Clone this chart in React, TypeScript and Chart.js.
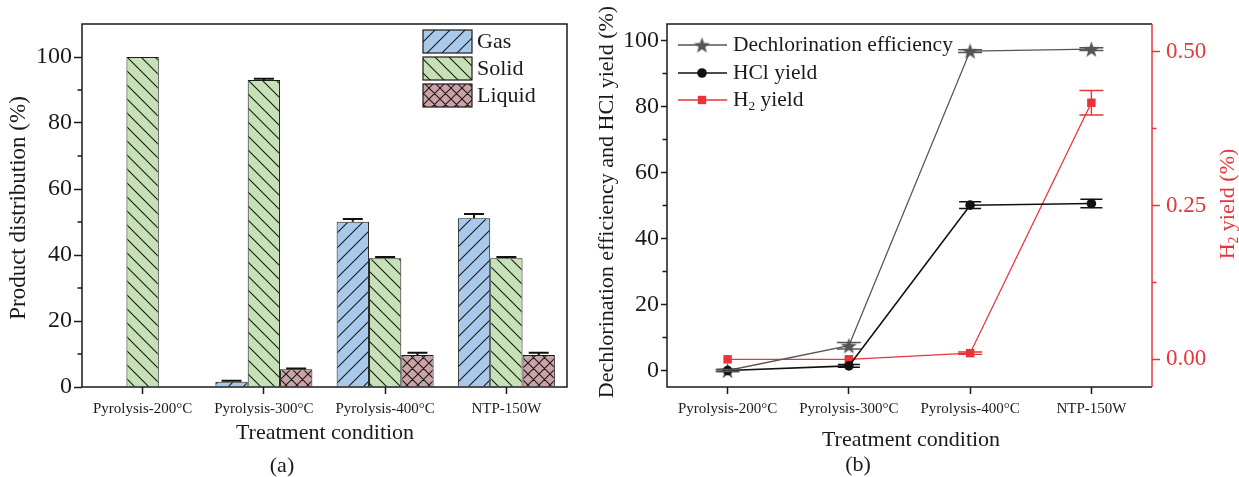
import React, { useEffect, useRef } from 'react';
import { Chart, registerables } from 'chart.js';

Chart.register(...registerables);

const FONT = "'Liberation Serif', 'Times New Roman', Times, serif";
const TEXT = '#1a1a1a';
const RED = '#e8353b';
const GRAY = '#555555';

// ---------- data ----------
const categories = ['Pyrolysis-200°C', 'Pyrolysis-300°C', 'Pyrolysis-400°C', 'NTP-150W'];

// (a) product distribution (%)
const gasValues = [null, 1.6, 50.1, 51.1];
const gasErrors = [0, 0.3, 0.8, 1.3];
const solidValues = [100, 93.0, 39.0, 39.0];
const solidErrors = [0, 0.4, 0.4, 0.4];
const liquidValues = [null, 5.4, 9.7, 9.7];
const liquidErrors = [0, 0.2, 0.7, 0.7];
const productMinorTicks = [10, 30, 50, 70, 90];

// (b) dechlorination (%), HCl yield (%), H2 yield (%)
const dechlorValues = [0, 7.5, 96.8, 97.4];
const dechlorErrors = [0.3, 1.0, 0.4, 0.4];
const hclValues = [0, 1.4, 50.1, 50.6];
const hclErrors = [0.3, 0.4, 1.0, 1.3];
const h2Values = [0, 0, 0.01, 0.417];
const h2Errors = [0, 0, 0.002, 0.02];
const leftMinorTicks = [10, 30, 50, 70, 90];
const rightMinorTicks = [0.125, 0.375];

// ---------- helpers ----------
function hatch(bg: string, kind: 'fwd' | 'back' | 'cross', size: number): CanvasPattern {
  const c = document.createElement('canvas');
  c.width = size;
  c.height = size;
  const g = c.getContext('2d')!;
  g.fillStyle = bg;
  g.fillRect(0, 0, size, size);
  g.strokeStyle = '#1a1a1a';
  g.lineWidth = 1.1;
  g.beginPath();
  if (kind === 'fwd' || kind === 'cross') {
    g.moveTo(-1, size + 1); g.lineTo(size + 1, -1);
    g.moveTo(-2, 2); g.lineTo(2, -2);
    g.moveTo(size - 2, size + 2); g.lineTo(size + 2, size - 2);
  }
  if (kind === 'back' || kind === 'cross') {
    g.moveTo(-1, -1); g.lineTo(size + 1, size + 1);
    g.moveTo(size - 2, -2); g.lineTo(size + 2, 2);
    g.moveTo(-2, size - 2); g.lineTo(2, size + 2);
  }
  g.stroke();
  return g.createPattern(c, 'repeat')!;
}

function starImage(outer: number, inner: number, color: string): HTMLCanvasElement {
  const s = Math.ceil(outer * 2 + 2);
  const c = document.createElement('canvas');
  c.width = s;
  c.height = s;
  const g = c.getContext('2d')!;
  g.fillStyle = color;
  g.beginPath();
  for (let k = 0; k < 10; k++) {
    const r = k % 2 === 0 ? outer : inner;
    const a = -Math.PI / 2 + (k * Math.PI) / 5;
    const px = s / 2 + r * Math.cos(a);
    const py = s / 2 + 0.8 + r * Math.sin(a);
    if (k === 0) g.moveTo(px, py);
    else g.lineTo(px, py);
  }
  g.closePath();
  g.fill();
  return c;
}

function txt(ctx: CanvasRenderingContext2D, s: string, x: number, y: number, size: number, color: string, align: CanvasTextAlign = 'center', rot = 0) {
  ctx.save();
  ctx.translate(x, y);
  if (rot) ctx.rotate(rot);
  ctx.font = `${size}px ${FONT}`;
  ctx.fillStyle = color;
  ctx.textAlign = align;
  ctx.textBaseline = 'middle';
  ctx.fillText(s, 0, 0);
  ctx.restore();
}

type Part = { t: string; sub?: boolean };
function rich(ctx: CanvasRenderingContext2D, parts: Part[], x: number, y: number, size: number, color: string, align: 'left' | 'center', rot = 0) {
  ctx.save();
  ctx.translate(x, y);
  if (rot) ctx.rotate(rot);
  ctx.fillStyle = color;
  ctx.textBaseline = 'middle';
  ctx.textAlign = 'left';
  const subSize = size * 0.62;
  let total = 0;
  const widths = parts.map((p) => {
    ctx.font = `${p.sub ? subSize : size}px ${FONT}`;
    const w = ctx.measureText(p.t).width;
    total += w;
    return w;
  });
  let cx = align === 'center' ? -total / 2 : 0;
  parts.forEach((p, i) => {
    ctx.font = `${p.sub ? subSize : size}px ${FONT}`;
    ctx.fillText(p.t, cx, p.sub ? size * 0.3 : 0);
    cx += widths[i];
  });
  ctx.restore();
}

const errorBars = {
  id: 'errorBars',
  afterDatasetsDraw(chart: any) {
    const ctx: CanvasRenderingContext2D = chart.ctx;
    chart.data.datasets.forEach((ds: any, i: number) => {
      const errs: number[] | undefined = ds.errors;
      if (!errs) return;
      const meta = chart.getDatasetMeta(i);
      const scale = chart.scales[meta.yAxisID];
      ctx.save();
      ctx.strokeStyle = ds.errorColor;
      ctx.lineWidth = ds.errorWidth;
      meta.data.forEach((el: any, j: number) => {
        const v = ds.data[j];
        const e = errs[j];
        if (v == null || !e) return;
        const x = el.x;
        const yTop = scale.getPixelForValue(v + e);
        const yBot = ds.upperOnly ? scale.getPixelForValue(v) : scale.getPixelForValue(v - e);
        const hw = ds.capHalf;
        ctx.beginPath();
        ctx.moveTo(x, yTop); ctx.lineTo(x, yBot);
        ctx.moveTo(x - hw, yTop); ctx.lineTo(x + hw, yTop);
        if (!ds.upperOnly) { ctx.moveTo(x - hw, yBot); ctx.lineTo(x + hw, yBot); }
        ctx.stroke();
      });
      ctx.restore();
    });
  },
};

function minorTicks(ctx: CanvasRenderingContext2D, scale: any, values: number[], x0: number, dir: number, len: number, color: string) {
  ctx.save();
  ctx.strokeStyle = color;
  ctx.lineWidth = 1.5;
  ctx.beginPath();
  values.forEach((v) => {
    const y = scale.getPixelForValue(v);
    ctx.moveTo(x0, y);
    ctx.lineTo(x0 + dir * len, y);
  });
  ctx.stroke();
  ctx.restore();
}

export default function App() {
  const leftRef = useRef<HTMLCanvasElement>(null);
  const rightRef = useRef<HTMLCanvasElement>(null);

  useEffect(() => {
    Chart.defaults.font.family = FONT;
    const gasPat = hatch('#a9c9ea', 'fwd', 15);
    const solidPat = hatch('#c6e1b5', 'back', 14);
    const liquidPat = hatch('#cda2a7', 'cross', 11);
    const starImg = starImage(8.5, 3.5, GRAY);

    const leftDecor = {
      id: 'leftDecor',
      afterDraw(chart: any) {
        const ctx: CanvasRenderingContext2D = chart.ctx;
        const a = chart.chartArea;
        ctx.save();
        ctx.strokeStyle = TEXT;
        ctx.lineWidth = 1.5;
        ctx.strokeRect(a.left, a.top, a.right - a.left, a.bottom - a.top);
        ctx.restore();
        minorTicks(ctx, chart.scales.y, productMinorTicks, a.left, -1, 4.5, TEXT);
        // legend
        const rows = [
          { label: 'Gas', fill: gasPat },
          { label: 'Solid', fill: solidPat },
          { label: 'Liquid', fill: liquidPat },
        ];
        rows.forEach((r, i) => {
          const y0 = 30 + i * 27;
          ctx.save();
          ctx.fillStyle = r.fill as any;
          ctx.fillRect(423, y0, 49, 23);
          ctx.strokeStyle = TEXT;
          ctx.lineWidth = 1.2;
          ctx.strokeRect(423, y0, 49, 23);
          ctx.restore();
          txt(ctx, r.label, 477, y0 + 12, 22, TEXT, 'left');
        });
        txt(ctx, 'Product distribution (%)', 19, 208, 23, TEXT, 'center', -Math.PI / 2);
        txt(ctx, 'Treatment condition', 325, 433, 22, TEXT);
        txt(ctx, '(a)', 282, 466, 22, TEXT);
      },
    };

    const OFF = 590;
    const rightDecor = {
      id: 'rightDecor',
      afterDraw(chart: any) {
        const ctx: CanvasRenderingContext2D = chart.ctx;
        const a = chart.chartArea;
        ctx.save();
        ctx.lineWidth = 1.5;
        ctx.strokeStyle = TEXT;
        ctx.beginPath();
        ctx.moveTo(a.right, a.top); ctx.lineTo(a.left, a.top); ctx.lineTo(a.left, a.bottom); ctx.lineTo(a.right, a.bottom);
        ctx.stroke();
        ctx.strokeStyle = RED;
        ctx.beginPath();
        ctx.moveTo(a.right, a.top); ctx.lineTo(a.right, a.bottom);
        ctx.stroke();
        ctx.restore();
        minorTicks(ctx, chart.scales.y, leftMinorTicks, a.left, -1, 4.5, TEXT);
        minorTicks(ctx, chart.scales.y2, rightMinorTicks, a.right, 1, 4.5, RED);
        // legend
        const lx0 = 678 - OFF, lx1 = 727 - OFF, mx = 702 - OFF, tx = 733 - OFF;
        const rowY = [45, 73, 100];
        const cols = [GRAY, '#111111', RED];
        rowY.forEach((y, i) => {
          ctx.save();
          ctx.strokeStyle = cols[i];
          ctx.lineWidth = 1.4;
          ctx.beginPath();
          ctx.moveTo(lx0, y); ctx.lineTo(lx1, y);
          ctx.stroke();
          ctx.fillStyle = cols[i];
          if (i === 0) ctx.drawImage(starImg, mx - starImg.width / 2, y - starImg.height / 2);
          if (i === 1) { ctx.beginPath(); ctx.arc(mx, y, 4.8, 0, Math.PI * 2); ctx.fill(); }
          if (i === 2) ctx.fillRect(mx - 4.2, y - 4.2, 8.4, 8.4);
          ctx.restore();
        });
        txt(ctx, 'Dechlorination efficiency', tx, rowY[0], 21.5, TEXT, 'left');
        txt(ctx, 'HCl yield', tx, rowY[1], 21.5, TEXT, 'left');
        rich(ctx, [{ t: 'H' }, { t: '2', sub: true }, { t: ' yield' }], tx, rowY[2], 21.5, TEXT, 'left');
        txt(ctx, 'Dechlorination efficiency and HCl yield (%)', 607 - OFF, 202, 22, TEXT, 'center', -Math.PI / 2);
        rich(ctx, [{ t: 'H' }, { t: '2', sub: true }, { t: ' yield (%)' }], 1228 - OFF, 204, 22, RED, 'center', -Math.PI / 2);
        txt(ctx, 'Treatment condition', 911 - OFF, 440, 22, TEXT);
        txt(ctx, '(b)', 858 - OFF, 465, 22, TEXT);
      },
    };

    const left = new Chart(leftRef.current!, {
      type: 'bar',
      data: {
        labels: categories,
        datasets: [
          { label: 'Gas', data: gasValues as any, backgroundColor: gasPat as any, borderColor: TEXT, borderWidth: 1, errors: gasErrors, errorColor: '#111', errorWidth: 2, capHalf: 10, upperOnly: true } as any,
          { label: 'Solid', data: solidValues, backgroundColor: solidPat as any, borderColor: TEXT, borderWidth: 1, errors: solidErrors, errorColor: '#111', errorWidth: 2, capHalf: 10, upperOnly: true } as any,
          { label: 'Liquid', data: liquidValues as any, backgroundColor: liquidPat as any, borderColor: TEXT, borderWidth: 1, errors: liquidErrors, errorColor: '#111', errorWidth: 2, capHalf: 10, upperOnly: true } as any,
        ],
      },
      options: {
        animation: false,
        responsive: false,
        events: [],
        layout: { padding: { top: 24, right: 33, left: 0, bottom: 0 } },
        plugins: { legend: { display: false }, tooltip: { enabled: false } },
        datasets: { bar: { categoryPercentage: 0.8, barPercentage: 1 } },
        scales: {
          x: {
            offset: true,
            grid: { offset: false, drawOnChartArea: false, drawTicks: true, tickLength: 7, tickWidth: 1.5, tickColor: TEXT },
            border: { display: false },
            ticks: { font: { size: 15 }, color: TEXT, padding: 6, maxRotation: 0, autoSkip: false },
            afterFit: (s: any) => { s.height = 90; },
          },
          y: {
            min: 0,
            max: 110,
            ticks: { stepSize: 20, includeBounds: false, font: { size: 24 }, color: TEXT, padding: 2 },
            grid: { drawOnChartArea: false, tickLength: 8, tickWidth: 1.5, tickColor: TEXT },
            border: { display: false },
            afterFit: (s: any) => { s.width = 82; },
          },
        },
      } as any,
      plugins: [errorBars, leftDecor],
    });

    const right = new Chart(rightRef.current!, {
      type: 'line',
      data: {
        labels: categories,
        datasets: [
          { label: 'HCl yield', data: hclValues, yAxisID: 'y', borderColor: '#111111', borderWidth: 1.6, pointStyle: 'circle', pointRadius: 4.8, pointBackgroundColor: '#111111', pointBorderWidth: 0, tension: 0, errors: hclErrors, errorColor: '#111111', errorWidth: 1.5, capHalf: 11 } as any,
          { label: 'Dechlorination efficiency', data: dechlorValues, yAxisID: 'y', borderColor: GRAY, borderWidth: 1.3, pointStyle: starImg, pointRadius: 8, pointBackgroundColor: GRAY, pointBorderWidth: 0, tension: 0, errors: dechlorErrors, errorColor: GRAY, errorWidth: 1.5, capHalf: 12 } as any,
          { label: 'H2 yield', data: h2Values, yAxisID: 'y2', borderColor: RED, borderWidth: 1.3, pointStyle: 'rect', pointRadius: 6, pointBackgroundColor: RED, pointBorderWidth: 0, tension: 0, errors: h2Errors, errorColor: RED, errorWidth: 1.4, capHalf: 12 } as any,
        ],
      },
      options: {
        animation: false,
        responsive: false,
        events: [],
        layout: { padding: { top: 24, right: 0, left: 0, bottom: 0 } },
        plugins: { legend: { display: false }, tooltip: { enabled: false } },
        scales: {
          x: {
            type: 'category',
            offset: true,
            grid: { offset: false, drawOnChartArea: false, drawTicks: true, tickLength: 7, tickWidth: 1.5, tickColor: TEXT },
            border: { display: false },
            ticks: { font: { size: 15 }, color: TEXT, padding: 6, maxRotation: 0, autoSkip: false },
            afterFit: (s: any) => { s.height = 90; },
          },
          y: {
            position: 'left',
            min: -5,
            max: 105,
            ticks: { stepSize: 20, includeBounds: false, font: { size: 24 }, color: TEXT, padding: 2 },
            grid: { drawOnChartArea: false, tickLength: 6, tickWidth: 1.5, tickColor: TEXT },
            border: { display: false },
            afterFit: (s: any) => { s.width = 77; },
          },
          y2: {
            position: 'right',
            min: -0.045,
            max: 0.545,
            ticks: { stepSize: 0.25, includeBounds: false, font: { size: 23 }, color: RED, padding: 6, callback: (v: any) => Number(v).toFixed(2) },
            grid: { drawOnChartArea: false, tickLength: 8, tickWidth: 1.5, tickColor: RED },
            border: { display: false },
            afterFit: (s: any) => { s.width = 87; },
          },
        },
      } as any,
      plugins: [errorBars, rightDecor],
    });

    return () => {
      left.destroy();
      right.destroy();
    };
  }, []);

  return (
    <div style={{ position: 'fixed', left: 0, top: 0, width: 1239, height: 477, background: '#ffffff', overflow: 'hidden' }}>
      <canvas ref={leftRef} width={600} height={477} style={{ position: 'absolute', left: 0, top: 0 }} />
      <canvas ref={rightRef} width={649} height={477} style={{ position: 'absolute', left: 590, top: 0 }} />
    </div>
  );
}
